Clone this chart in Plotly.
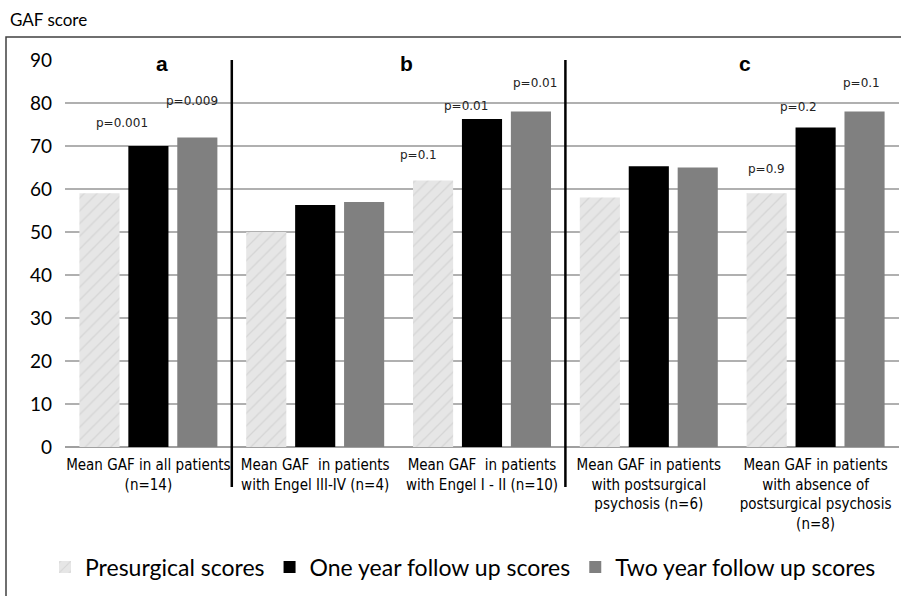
import plotly.graph_objects as go

categories = [
    "Mean GAF in all patients<br>(n=14)",
    "Mean GAF  in patients<br>with Engel III-IV (n=4)",
    "Mean GAF  in patients<br>with Engel I - II (n=10)",
    "Mean GAF in patients<br>with postsurgical<br>psychosis (n=6)",
    "Mean GAF in patients<br>with absence of<br>postsurgical psychosis<br>(n=8)",
]
presurgical = [59, 50, 62, 58, 59]
one_year = [70, 56.3, 76.3, 65.3, 74.3]
two_year = [72, 57, 78, 65, 78]
series_names = ["Presurgical scores", "One year follow up scores", "Two year follow up scores"]
y_ticks = [0, 10, 20, 30, 40, 50, 60, 70, 80, 90]
panel_letters = ["a", "b", "c"]
# p-value labels: (category index, series index, text)
p_labels = [
    (0, 1, "p=0.001"), (0, 2, "p=0.009"),
    (2, 0, "p=0.1"), (2, 1, "p=0.01"), (2, 2, "p=0.01"),
    (4, 0, "p=0.9"), (4, 1, "p=0.2"), (4, 2, "p=0.1"),
]
# pixel nudges for each p label (dx, dy above bar top)
p_nudges = [(-26, 14), (-5, 27), (-15, 16), (-16, 4), (4, 20), (0, 15), (-17, 12), (-3, 20)]

series_values = [presurgical, one_year, two_year]
xs = list(range(len(categories)))

fig = go.Figure()
fig.add_trace(go.Bar(
    x=xs, y=presurgical, name=series_names[0],
    marker=dict(color="#e6e6e6", line=dict(width=0),
                pattern=dict(shape="/", fgcolor="#c4c4c4", size=9, solidity=0.15)),
))
fig.add_trace(go.Bar(x=xs, y=one_year, name=series_names[1],
                     marker=dict(color="#000000", line=dict(width=0))))
fig.add_trace(go.Bar(x=xs, y=two_year, name=series_names[2],
                     marker=dict(color="#808080", line=dict(width=0))))

W, H = 901, 596
L, R, T, B = 65, 2, 60, 149
pw, ph = W - L - R, H - T - B

def px_x(p):
    return (p - L) / pw

def px_y(p):
    return (H - B - p) / ph

bar_step = 0.2934
annotations = []
for (ci, si, txt), (dx, dy) in zip(p_labels, p_nudges):
    annotations.append(dict(
        x=ci + (si - 1) * bar_step, y=series_values[si][ci], xref="x", yref="y",
        text=txt, showarrow=False, xshift=dx, yshift=dy, yanchor="bottom",
        font=dict(family="DejaVu Sans", size=12, color="#222222"),
    ))

letter_x = [0.08, 1.548, 3.578]
for lx, lt in zip(letter_x, panel_letters):
    annotations.append(dict(
        x=lx, y=px_y(50), xref="x", yref="paper", text="<b>%s</b>" % lt,
        showarrow=False, font=dict(family="Liberation Sans", size=21, color="#000000"),
    ))

annotations.append(dict(
    x=px_x(8), y=px_y(20), xref="paper", yref="paper", text="GAF score",
    showarrow=False, xanchor="left", yanchor="middle",
    font=dict(family="Lato", size=17, color="#000000"),
))

shapes = [
    dict(type="rect", xref="paper", yref="paper", x0=px_x(6), x1=px_x(905),
         y0=px_y(605), y1=px_y(37), line=dict(color="#404040", width=1.5)),
    dict(type="line", xref="x", yref="paper", x0=0.5, x1=0.5,
         y0=px_y(487), y1=1, line=dict(color="#000000", width=2.5)),
    dict(type="line", xref="x", yref="paper", x0=2.5, x1=2.5,
         y0=px_y(487), y1=1, line=dict(color="#000000", width=2.5)),
]

fig.update_layout(
    width=W, height=H,
    margin=dict(l=L, r=R, t=T, b=B, autoexpand=False),
    paper_bgcolor="white", plot_bgcolor="white",
    barmode="group", bargap=0.12, bargroupgap=0.18,
    showlegend=True,
    legend=dict(orientation="h", x=px_x(463), xanchor="center", y=px_y(567),
                yanchor="middle", font=dict(family="Lato", size=23, color="#000000"),
                traceorder="normal", itemwidth=30, tracegroupgap=0),
    annotations=annotations, shapes=shapes,
    xaxis=dict(range=[-0.5, 4.5], tickmode="array", tickvals=xs, ticktext=categories,
               showgrid=False, zeroline=False, showline=False, ticks="", automargin=False,
               tickfont=dict(family="DejaVu Sans Condensed, Liberation Sans", size=15,
                             color="#000000"),
               ticklabelstandoff=7),
    yaxis=dict(range=[0, 90], tickmode="array", tickvals=y_ticks, automargin=False,
               showgrid=True, gridcolor="#b0b0b0", gridwidth=1.5,
               zeroline=True, zerolinecolor="#a0a0a0", zerolinewidth=2,
               showline=False, ticks="", ticklabelstandoff=12,
               tickfont=dict(family="Lato", size=19, color="#000000")),
)

fig.write_html("out.html", config={"displayModeBar": False},
               post_script="document.body.style.margin='0';document.body.style.overflow='hidden';")
